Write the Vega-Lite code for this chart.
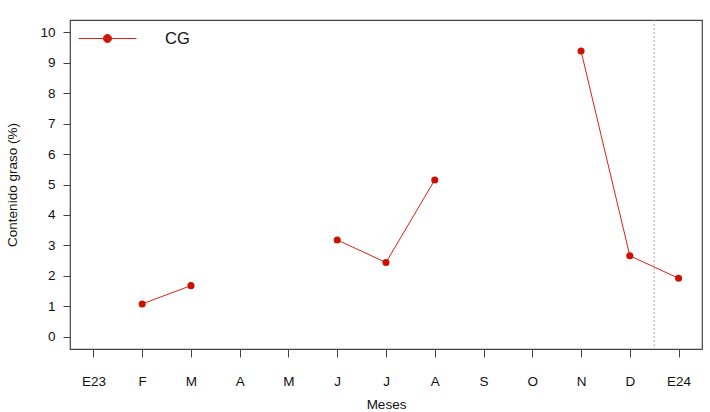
{
  "$schema": "https://vega.github.io/schema/vega-lite/v6.json",
  "autosize": "none",
  "width": 632,
  "height": 329,
  "padding": {"left": 70, "top": 20, "right": 8, "bottom": 63},
  "background": "white",
  "config": {
    "font": "Liberation Sans",
    "view": {"stroke": "#444444", "strokeWidth": 1.2},
    "axis": {"grid": false, "domain": false, "labelOverlap": false, "tickColor": "#444444", "labelColor": "#111111", "titleColor": "#111111", "labelFont": "Liberation Sans", "titleFont": "Liberation Sans", "titleFontWeight": "normal"}
  },
  "datasets": {
    "cg": [
      {"mes": 1, "cg": 1.08, "seg": "a", "serie": "CG"},
      {"mes": 2, "cg": 1.68, "seg": "a", "serie": "CG"},
      {"mes": 5, "cg": 3.18, "seg": "b", "serie": "CG"},
      {"mes": 6, "cg": 2.44, "seg": "b", "serie": "CG"},
      {"mes": 7, "cg": 5.15, "seg": "b", "serie": "CG"},
      {"mes": 10, "cg": 9.38, "seg": "c", "serie": "CG"},
      {"mes": 11, "cg": 2.66, "seg": "c", "serie": "CG"},
      {"mes": 12, "cg": 1.92, "seg": "c", "serie": "CG"}
    ],
    "corte": [{"mes": 11.5}]
  },
  "layer": [
    {
      "data": {"name": "corte"},
      "mark": {"type": "rule", "color": "#AAAAAA", "strokeDash": [2, 2], "strokeWidth": 1},
      "encoding": {
        "x": {"field": "mes", "type": "quantitative", "scale": {"domain": [-0.48, 12.48], "nice": false, "zero": false},
          "axis": {"values": [0,1,2,3,4,5,6,7,8,9,10,11,12], "title": "Meses", "tickSize": 8, "labelPadding": 17, "labelFontSize": 13.5, "titleFontSize": 13.5, "titlePadding": 10,
            "labelExpr": "['E23','F','M','A','M','J','J','A','S','O','N','D','E24'][datum.value]"}}
      }
    },
    {
      "data": {"name": "cg"},
      "mark": {"type": "line", "strokeWidth": 1},
      "encoding": {
        "x": {"field": "mes", "type": "quantitative",
          "scale": {"domain": [-0.48, 12.48], "nice": false, "zero": false},
          "axis": {"values": [0,1,2,3,4,5,6,7,8,9,10,11,12], "title": "Meses", "tickSize": 8, "labelPadding": 17, "labelFontSize": 13.5, "titleFontSize": 13.5, "titlePadding": 10,
            "labelExpr": "['E23','F','M','A','M','J','J','A','S','O','N','D','E24'][datum.value]"}},
        "y": {"field": "cg", "type": "quantitative",
          "scale": {"domain": [-0.4, 10.4], "nice": false, "zero": false},
          "axis": {"values": [0,1,2,3,4,5,6,7,8,9,10], "tickCount": 11, "title": "Contenido graso (%)", "tickSize": 7, "labelPadding": 8, "labelFontSize": 13.5, "titleFontSize": 13.5, "titlePadding": 20}},
        "detail": {"field": "seg"},
        "color": {"field": "serie", "type": "nominal", "scale": {"range": ["#DD2211"]},
          "legend": {"title": null, "orient": "none", "legendX": 8, "legendY": -11, "padding": 0,
            "symbolType": "M-1,0H1M0.14,0A0.14,0.14,0,1,1,-0.14,0A0.14,0.14,0,1,1,0.14,0Z",
            "symbolSize": 3364, "symbolStrokeWidth": 1, "labelFontSize": 16.5, "labelOffset": 28, "labelColor": "#111111",
            "encode": {"symbols": {"update": {"fill": {"value": "#CC1100"}, "stroke": {"value": "#E0412F"}}}}}}
      }
    },
    {
      "data": {"name": "cg"},
      "mark": {"type": "point", "filled": true, "color": "#CC1100", "opacity": 1, "size": 50},
      "encoding": {
        "x": {"field": "mes", "type": "quantitative",
          "axis": {"values": [0,1,2,3,4,5,6,7,8,9,10,11,12], "title": "Meses", "tickSize": 8, "labelPadding": 17, "labelFontSize": 13.5, "titleFontSize": 13.5, "titlePadding": 10,
            "labelExpr": "['E23','F','M','A','M','J','J','A','S','O','N','D','E24'][datum.value]"}},
        "y": {"field": "cg", "type": "quantitative",
          "axis": {"values": [0,1,2,3,4,5,6,7,8,9,10], "tickCount": 11, "title": "Contenido graso (%)", "tickSize": 7, "labelPadding": 8, "labelFontSize": 13.5, "titleFontSize": 13.5, "titlePadding": 20}}
      }
    }
  ]
}
